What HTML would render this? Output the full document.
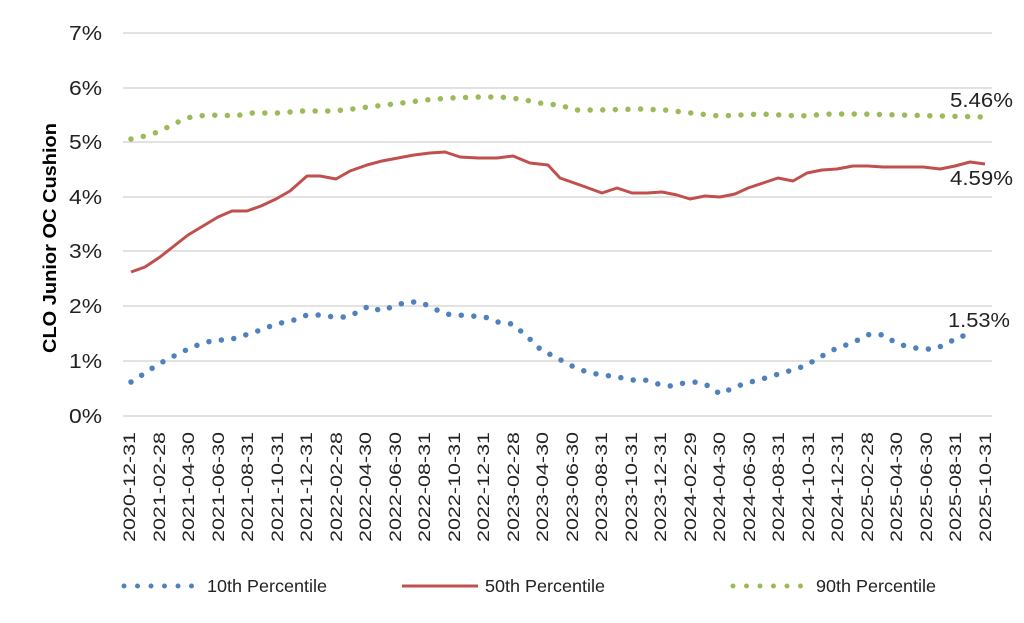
<!DOCTYPE html>
<html><head><style>
body{margin:0;background:#fff;}
svg{display:block;font-family:"Liberation Sans",Arial,sans-serif;}
</style></head><body>
<svg width="1024" height="623" viewBox="0 0 1024 623" xmlns="http://www.w3.org/2000/svg">
<g stroke="#d9d9d9" stroke-width="1.5">
<line x1="123" x2="992" y1="33" y2="33"/><line x1="123" x2="992" y1="88" y2="88"/>
<line x1="123" x2="992" y1="142" y2="142"/><line x1="123" x2="992" y1="197" y2="197"/>
<line x1="123" x2="992" y1="251" y2="251"/><line x1="123" x2="992" y1="306" y2="306"/>
<line x1="123" x2="992" y1="361" y2="361"/><line x1="123" x2="992" y1="416" y2="416"/>
</g>
<g font-size="20" fill="#222">
<text x="69" y="40" textLength="33" lengthAdjust="spacingAndGlyphs">7%</text>
<text x="69" y="95" textLength="33" lengthAdjust="spacingAndGlyphs">6%</text>
<text x="69" y="149" textLength="33" lengthAdjust="spacingAndGlyphs">5%</text>
<text x="69" y="204" textLength="33" lengthAdjust="spacingAndGlyphs">4%</text>
<text x="69" y="258" textLength="33" lengthAdjust="spacingAndGlyphs">3%</text>
<text x="69" y="313" textLength="33" lengthAdjust="spacingAndGlyphs">2%</text>
<text x="69" y="368" textLength="33" lengthAdjust="spacingAndGlyphs">1%</text>
<text x="69" y="423" textLength="33" lengthAdjust="spacingAndGlyphs">0%</text>
</g>
<text transform="translate(56,353) rotate(-90)" font-size="18" font-weight="bold" fill="#000" textLength="230" lengthAdjust="spacingAndGlyphs">CLO Junior OC Cushion</text>
<polyline fill="none" stroke="#9bbb59" stroke-width="5.5" stroke-linecap="round" stroke-dasharray="0 12.6" points="131,139 145,136 158,132 170,126 182,120 194,116 220,115 235,116 250,113 280,113 300,111 330,111 345,110 360,108 385,105 410,102 425,100 450,98 480,97 500,97 520,99 545,104 560,105 575,110 600,110 640,109 665,110 700,114 720,116 760,114 800,116 830,114 860,114 900,115 940,116 985,117"/>
<polyline fill="none" stroke="#c0504d" stroke-width="3" stroke-linejoin="round" points="131,272 145,267 160,257 174,246 188,235 203,226 218,217 232,211 247,211 261,206 276,199 290,191 307,176 320,176 336,179 350,171 367,165 382,161 398,158 414,155 430,153 445,152 460,157 478,158 497,158 513,156 530,163 548,165 560,178 580,185 602,193 617,188 632,193 647,193 662,192 677,195 690,199 705,196 720,197 735,194 748,188 763,183 778,178 793,181 807,173 822,170 837,169 853,166 868,166 883,167 923,167 940,169 955,166 970,162 985,164"/>
<polyline fill="none" stroke="#4f81bd" stroke-width="5.5" stroke-linecap="round" stroke-dasharray="0 12.6" points="131,382 142,375 154,367 166,360 178,354 190,348 203,343 216,340 229,340 242,336 255,332 268,327 281,323 294,320 307,315 320,315 334,317 347,317 358,312 369,306 381,311 394,306 407,302 420,302 433,308 445,314 458,315 472,316 485,317 498,322 512,324 522,332 532,341 542,351 554,356 566,363 578,369 591,373 603,375 618,377 631,380 645,380 658,384 671,386 684,383 697,382 709,386 720,394 733,388 746,383 759,380 772,376 785,372 797,369 810,363 822,356 835,349 846,345 858,340 870,334 884,335 896,343 909,347 922,349 935,349 948,343 960,336 972,336"/>
<g font-size="20" fill="#222">
<text x="950" y="107" textLength="63" lengthAdjust="spacingAndGlyphs">5.46%</text>
<text x="950" y="185" textLength="63" lengthAdjust="spacingAndGlyphs">4.59%</text>
<text x="948" y="327" textLength="62" lengthAdjust="spacingAndGlyphs">1.53%</text>
</g>
<g font-size="17.5" fill="#222">
<line x1="124" x2="200" y1="586" y2="586" stroke="#4f81bd" stroke-width="5" stroke-linecap="round" stroke-dasharray="0 13.5"/>
<text x="207" y="592" textLength="120" lengthAdjust="spacingAndGlyphs">10th Percentile</text>
<line x1="402" x2="478" y1="586" y2="586" stroke="#c0504d" stroke-width="3"/>
<text x="485" y="592" textLength="120" lengthAdjust="spacingAndGlyphs">50th Percentile</text>
<line x1="733" x2="809" y1="586" y2="586" stroke="#9bbb59" stroke-width="5" stroke-linecap="round" stroke-dasharray="0 13.5"/>
<text x="816" y="592" textLength="120" lengthAdjust="spacingAndGlyphs">90th Percentile</text>
</g>
<g font-size="17" fill="#222" text-anchor="end">
<text transform="translate(135,432) rotate(-90)" textLength="110" lengthAdjust="spacingAndGlyphs">2020-12-31</text>
<text transform="translate(165,432) rotate(-90)" textLength="110" lengthAdjust="spacingAndGlyphs">2021-02-28</text>
<text transform="translate(194,432) rotate(-90)" textLength="110" lengthAdjust="spacingAndGlyphs">2021-04-30</text>
<text transform="translate(224,432) rotate(-90)" textLength="110" lengthAdjust="spacingAndGlyphs">2021-06-30</text>
<text transform="translate(253,432) rotate(-90)" textLength="110" lengthAdjust="spacingAndGlyphs">2021-08-31</text>
<text transform="translate(283,432) rotate(-90)" textLength="110" lengthAdjust="spacingAndGlyphs">2021-10-31</text>
<text transform="translate(312,432) rotate(-90)" textLength="110" lengthAdjust="spacingAndGlyphs">2021-12-31</text>
<text transform="translate(342,432) rotate(-90)" textLength="110" lengthAdjust="spacingAndGlyphs">2022-02-28</text>
<text transform="translate(371,432) rotate(-90)" textLength="110" lengthAdjust="spacingAndGlyphs">2022-04-30</text>
<text transform="translate(401,432) rotate(-90)" textLength="110" lengthAdjust="spacingAndGlyphs">2022-06-30</text>
<text transform="translate(430,432) rotate(-90)" textLength="110" lengthAdjust="spacingAndGlyphs">2022-08-31</text>
<text transform="translate(460,432) rotate(-90)" textLength="110" lengthAdjust="spacingAndGlyphs">2022-10-31</text>
<text transform="translate(489,432) rotate(-90)" textLength="110" lengthAdjust="spacingAndGlyphs">2022-12-31</text>
<text transform="translate(519,432) rotate(-90)" textLength="110" lengthAdjust="spacingAndGlyphs">2023-02-28</text>
<text transform="translate(548,432) rotate(-90)" textLength="110" lengthAdjust="spacingAndGlyphs">2023-04-30</text>
<text transform="translate(578,432) rotate(-90)" textLength="110" lengthAdjust="spacingAndGlyphs">2023-06-30</text>
<text transform="translate(607,432) rotate(-90)" textLength="110" lengthAdjust="spacingAndGlyphs">2023-08-31</text>
<text transform="translate(637,432) rotate(-90)" textLength="110" lengthAdjust="spacingAndGlyphs">2023-10-31</text>
<text transform="translate(666,432) rotate(-90)" textLength="110" lengthAdjust="spacingAndGlyphs">2023-12-31</text>
<text transform="translate(696,432) rotate(-90)" textLength="110" lengthAdjust="spacingAndGlyphs">2024-02-29</text>
<text transform="translate(725,432) rotate(-90)" textLength="110" lengthAdjust="spacingAndGlyphs">2024-04-30</text>
<text transform="translate(755,432) rotate(-90)" textLength="110" lengthAdjust="spacingAndGlyphs">2024-06-30</text>
<text transform="translate(784,432) rotate(-90)" textLength="110" lengthAdjust="spacingAndGlyphs">2024-08-31</text>
<text transform="translate(814,432) rotate(-90)" textLength="110" lengthAdjust="spacingAndGlyphs">2024-10-31</text>
<text transform="translate(843,432) rotate(-90)" textLength="110" lengthAdjust="spacingAndGlyphs">2024-12-31</text>
<text transform="translate(873,432) rotate(-90)" textLength="110" lengthAdjust="spacingAndGlyphs">2025-02-28</text>
<text transform="translate(902,432) rotate(-90)" textLength="110" lengthAdjust="spacingAndGlyphs">2025-04-30</text>
<text transform="translate(932,432) rotate(-90)" textLength="110" lengthAdjust="spacingAndGlyphs">2025-06-30</text>
<text transform="translate(961,432) rotate(-90)" textLength="110" lengthAdjust="spacingAndGlyphs">2025-08-31</text>
<text transform="translate(991,432) rotate(-90)" textLength="110" lengthAdjust="spacingAndGlyphs">2025-10-31</text>
</g>
</svg>
</body></html>
